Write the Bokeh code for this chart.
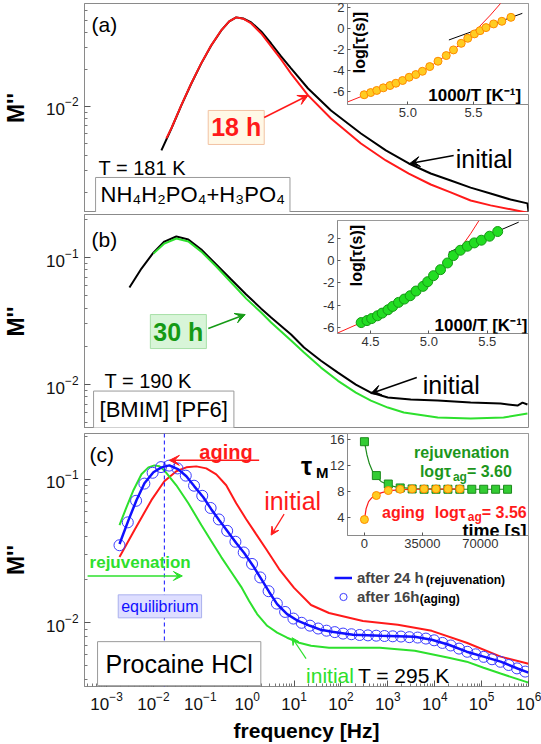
import math
from bokeh.plotting import figure
from bokeh.models import (Range1d, Label, Arrow, VeeHead, Span, FixedTicker, Column,
                          Legend, LegendItem, GridBox, PrintfTickFormatter)
from bokeh.embed import file_html
from bokeh.resources import INLINE

FONT = "Liberation Sans"

# ---------------- data ----------------
# panel (a): NH4H2PO4+H3PO4, T = 181 K
a_init_f = [0.0148, 0.0242, 0.0394, 0.0644, 0.105, 0.171, 0.280, 0.414, 0.583, 0.822, 1.22, 1.99, 3.24,
            5.29, 8.63, 19.9, 61.3, 267, 906, 2.80e3, 8.22e3, 2.19e4, 5.83e4, 1.55e5, 4.14e5, 9.5e5, 1.0e6]
a_init_m = [4.39e-3, 6.62e-3, 1.019e-2, 1.538e-2, 2.24e-2, 3.13e-2, 4.15e-2, 4.91e-2, 5.30e-2, 5.19e-2,
            4.82e-2, 4.07e-2, 3.25e-2, 2.55e-2, 2.04e-2, 1.40e-2, 9.27e-3, 6.03e-3, 4.39e-3, 3.44e-3,
            2.85e-3, 2.50e-3, 2.19e-3, 1.96e-3, 1.75e-3, 1.63e-3, 1.40e-3]
a_18h_f = [0.0189, 0.0242, 0.0394, 0.0644, 0.105, 0.171, 0.280, 0.414, 0.583, 0.822, 1.22, 1.99, 3.24,
           5.29, 8.63, 19.9, 61.3, 267, 906, 2.80e3, 8.22e3, 2.19e4, 5.83e4, 1.55e5, 4.14e5, 9.5e5]
a_18h_m = [5.50e-3, 6.65e-3, 1.025e-2, 1.545e-2, 2.25e-2, 3.14e-2, 4.16e-2, 4.92e-2, 5.30e-2, 5.17e-2,
           4.73e-2, 3.92e-2, 3.08e-2, 2.41e-2, 1.85e-2, 1.23e-2, 7.99e-3, 5.00e-3, 3.64e-3, 2.85e-3,
           2.32e-3, 2.00e-3, 1.72e-3, 1.57e-3, 1.46e-3, 1.37e-3]

# panel (b): [BMIM][PF6], T = 190 K
b_init_f = [3.08e-3, 5.56e-3, 1.00e-2, 1.71e-2, 3.08e-2, 5.56e-2, 0.105, 0.219, 0.457, 0.953, 1.99, 3.24,
            8.63, 16.3, 37.5, 86.3, 208, 435, 1000, 3.08e3, 1.16e4, 5.83e4, 2.54e5, 5.83e5, 7.45e5, 9.5e5]
b_init_m = [5.81e-2, 8.19e-2, 0.1094, 0.1336, 0.1464, 0.1385, 0.1156, 8.81e-2, 6.71e-2, 5.12e-2, 3.96e-2,
            3.37e-2, 2.48e-2, 1.96e-2, 1.54e-2, 1.24e-2, 1.00e-2, 8.65e-3, 7.90e-3, 7.62e-3, 7.48e-3,
            7.21e-3, 7.08e-3, 6.83e-3, 7.21e-3, 6.96e-3]
b_30h_f = [1.00e-2, 1.71e-2, 3.08e-2, 5.56e-2, 0.105, 0.219, 0.457, 0.953, 1.99, 3.24, 8.63, 16.3, 37.5,
           86.3, 208, 435, 1000, 2.19e3, 1.16e4, 5.83e4, 2.94e5, 9.5e5]
b_30h_m = [0.1074, 0.1288, 0.1412, 0.1337, 0.1114, 8.50e-2, 6.36e-2, 4.75e-2, 3.69e-2, 3.08e-2, 2.22e-2,
           1.79e-2, 1.36e-2, 1.07e-2, 8.65e-3, 7.48e-3, 6.59e-3, 6.03e-3, 5.50e-3, 5.40e-3, 5.50e-3, 5.91e-3]

# panel (c): Procaine HCl, T = 295 K
c_red_f = [1.89e-3, 3.95e-3, 9.06e-3, 1.71e-2, 3.08e-2, 5.04e-2, 8.22e-2, 0.134, 0.219, 0.357, 0.583,
           0.953, 1.55, 2.53, 4.80, 10.0, 23.0, 55.6, 294, 1.63e3, 8.63e3, 4.80e4, 2.54e5, 1.0e6]
c_red_m = [2.87e-2, 4.43e-2, 7.15e-2, 9.68e-2, 0.1137, 0.1211, 0.1230, 0.1191, 0.1083, 9.08e-2, 6.81e-2,
           5.27e-2, 4.15e-2, 3.27e-2, 2.37e-2, 1.75e-2, 1.33e-2, 1.17e-2, 1.03e-2, 9.68e-3, 8.79e-3,
           7.26e-3, 5.81e-3, 5.19e-3]
c_green_f = [1.89e-3, 2.67e-3, 3.75e-3, 5.56e-3, 7.83e-3, 1.05e-2, 1.34e-2, 1.71e-2, 3.08e-2, 5.56e-2,
             0.105, 0.171, 0.280, 0.457, 0.745, 1.10, 1.63, 2.67, 4.35, 7.10, 12.8, 23.0, 55.6, 128, 676,
             3.75e3, 1.99e4, 4.80e4, 1.10e5, 2.54e5, 1.0e6]
c_green_m = [4.80e-2, 6.40e-2, 8.39e-2, 0.1083, 0.1211, 0.1250, 0.1231, 0.1154, 9.08e-2, 6.81e-2,
             4.80e-2, 3.71e-2, 2.87e-2, 2.26e-2, 1.78e-2, 1.42e-2, 1.15e-2, 9.53e-3, 8.53e-3, 7.87e-3,
             7.26e-3, 6.92e-3, 6.70e-3, 6.70e-3, 6.70e-3, 6.39e-3, 5.71e-3, 5.36e-3, 4.86e-3, 4.43e-3, 3.83e-3]
c_blue_f = [1.89e-3, 2.94e-3, 4.35e-3, 6.44e-3, 1.00e-2, 1.48e-2, 2.19e-2, 3.40e-2, 5.04e-2, 7.45e-2,
            0.116, 0.171, 0.254, 0.394, 0.583, 0.863, 1.34, 1.99, 2.94, 4.35, 7.10, 12.2, 21.9, 37.5, 64.4,
            180, 710, 3.75e3, 8.63e3, 1.99e4, 4.80e4, 1.10e5, 2.54e5, 5.83e5, 1.0e6]
c_blue_m = [3.54e-2, 5.19e-2, 7.15e-2, 9.38e-2, 0.1119, 0.1211, 0.1250, 0.1173, 0.1049, 8.93e-2, 7.50e-2,
            6.19e-2, 5.19e-2, 4.28e-2, 3.60e-2, 3.06e-2, 2.49e-2, 2.02e-2, 1.64e-2, 1.35e-2, 1.15e-2,
            1.03e-2, 9.53e-3, 8.93e-3, 8.65e-3, 8.26e-3, 8.13e-3, 8.00e-3, 7.62e-3, 7.03e-3, 6.29e-3,
            5.81e-3, 5.36e-3, 4.80e-3, 4.50e-3]
c_circ_f = [1.89e-3, 2.84e-3, 4.27e-3, 6.41e-3, 9.62e-3, 1.45e-2, 2.17e-2, 3.26e-2, 4.90e-2, 7.35e-2,
            0.110, 0.166, 0.249, 0.374, 0.561, 0.843, 1.27, 1.90, 2.86, 4.29, 6.44, 9.68, 14.5, 21.8, 32.7,
            49.2, 73.9, 111, 167, 250, 376, 565, 847, 1.27e3, 1.91e3, 2.87e3, 4.32e3, 6.47e3, 9.72e3,
            1.46e4, 2.19e4, 3.30e4, 4.94e4, 7.43e4, 1.11e5, 1.67e5, 2.52e5, 3.78e5, 5.68e5, 8.51e5]
c_circ_m = [3.47e-2, 5.01e-2, 7.08e-2, 9.33e-2, 0.111, 0.1216, 0.1245, 0.119, 0.106, 9.02e-2, 7.67e-2,
            6.31e-2, 5.25e-2, 4.37e-2, 3.67e-2, 3.09e-2, 2.57e-2, 2.07e-2, 1.66e-2, 1.36e-2, 1.19e-2,
            1.07e-2, 1.00e-2, 9.55e-3, 9.12e-3, 8.81e-3, 8.61e-3, 8.41e-3, 8.32e-3, 8.22e-3, 8.17e-3,
            8.13e-3, 8.09e-3, 8.05e-3, 8.02e-3, 7.94e-3, 7.89e-3, 7.76e-3, 7.55e-3, 7.24e-3, 6.95e-3,
            6.61e-3, 6.28e-3, 6.03e-3, 5.79e-3, 5.57e-3, 5.35e-3, 5.08e-3, 4.81e-3, 4.57e-3]
f_equilibrium = 0.0171

# inset (a): log tau vs 1000/T
ia_x = [4.667, 4.717, 4.763, 4.813, 4.864, 4.909, 4.960, 5.010, 5.061, 5.111, 5.167, 5.230, 5.293, 5.348,
        5.407, 5.457, 5.508, 5.551, 5.596, 5.654, 5.717, 5.786]
ia_y = [-6.31, -6.10, -5.90, -5.65, -5.43, -5.21, -4.95, -4.64, -4.38, -4.07, -3.62, -3.11, -2.57, -2.03,
        -1.40, -0.92, -0.50, -0.19, 0.10, 0.45, 0.70, 1.08]
ia_vft_x = [4.54, 4.67, 4.80, 4.93, 5.06, 5.17, 5.27, 5.37, 5.46, 5.55, 5.63, 5.71]
ia_vft_y = [-7.0, -6.35, -5.75, -5.12, -4.40, -3.62, -2.75, -1.80, -0.80, 0.25, 1.30, 2.45]
ia_arr_x = [5.313, 5.873]
ia_arr_y = [-1.08, 1.46]

# inset (b)
ib_x = [4.42, 4.47, 4.51, 4.56, 4.60, 4.65, 4.69, 4.74, 4.79, 4.84, 4.89, 4.95, 4.99, 5.04, 5.10, 5.16,
        5.21, 5.27, 5.33, 5.39, 5.45, 5.52, 5.59]
ib_y = [-5.56, -5.38, -5.20, -4.95, -4.71, -4.41, -4.11, -3.75, -3.45, -3.15, -2.73, -2.31, -1.89, -1.35,
        -0.81, -0.21, 0.45, 0.93, 1.29, 1.59, 1.83, 2.19, 2.61]
ib_vft_x = [4.215, 4.42, 4.60, 4.79, 4.95, 5.10, 5.17, 5.24, 5.30, 5.36, 5.43]
ib_vft_y = [-6.51, -5.56, -4.65, -3.45, -2.25, -0.81, -0.05, 0.75, 1.55, 2.45, 3.60]
ib_arr_x = [5.17, 5.77]
ib_arr_y = [0.75, 3.45]

# inset (c): tau_M vs time
ic_rej_t = [0, 7200, 14400, 21600, 28800, 36000, 43200, 50400, 57600, 64800, 72000, 79200, 86400]
ic_rej_tau = [15.6, 10.4, 9.1, 8.5, 8.35, 8.3, 8.3, 8.3, 8.3, 8.3, 8.3, 8.3, 8.3]
ic_age_t = [0, 7200, 14400, 21600, 28800, 36000, 43200, 50400, 57600]
ic_age_tau = [3.65, 7.34, 8.1, 8.3, 8.35, 8.35, 8.35, 8.35, 8.35]
ic_rej_fit_t = [0, 1500, 3000, 5000, 7200, 10000, 14400, 20000, 30000, 45000, 86400]
ic_rej_fit_tau = [15.6, 13.6, 12.2, 11.0, 10.2, 9.5, 8.95, 8.6, 8.4, 8.32, 8.3]
ic_age_fit_t = [0, 1000, 2500, 4500, 7200, 10000, 14400, 20000, 30000, 57600]
ic_age_fit_tau = [3.6, 5.3, 6.4, 7.0, 7.4, 7.75, 8.05, 8.2, 8.3, 8.35]

X_TICKS = [1e-3, 1e-2, 1e-1, 1e0, 1e1, 1e2, 1e3, 1e4, 1e5, 1e6]
Y_TICKS_A = [1e-2]
Y_TICKS_BC = [1e-2, 1e-1]
IA_XTICKS = [5.0, 5.5]
IB_XTICKS = [4.5, 5.0, 5.5]
I_YTICKS = [-6, -4, -2, 0, 2]
IC_XTICKS = [0, 35000, 70000]
IC_YTICKS = [4, 8, 12, 16]

X_MINOR = [m * 10.0 ** k for k in range(-4, 6) for m in range(2, 10)]
Y_MINOR = [m * 10.0 ** k for k in range(-4, 0) for m in range(2, 10)]

# -------- annotation placement helpers (pixel -> data, annotations only) --------
def px_f(px):
    return 10 ** (-3 + (px - 105) / 47.0)

def py_a(py):
    return 10 ** (-2 - (py - 106) / 123.0)

def py_b(py):
    return 10 ** (-1 - (py - 257) / 127.0)

def py_c(py):
    return 10 ** (-1 - (py - 479) / 144.0)


def style_axis(ax, size="17px"):
    ax.axis_line_color = "#8a8a8a"
    ax.major_tick_line_color = "#555555"
    ax.minor_tick_line_color = "#777777"
    ax.major_tick_in = 6
    ax.major_tick_out = 0
    ax.minor_tick_in = 3
    ax.minor_tick_out = 0
    ax.major_label_text_font = FONT
    ax.major_label_text_font_size = size
    ax.major_label_text_color = "#111111"
    ax.axis_label_text_font = FONT
    ax.axis_label_text_font_style = "bold"
    ax.axis_label_text_color = "black"


def make_main(height, top, bottom, ylo, yhi, yticks, with_x):
    p = figure(width=541, height=height, x_axis_type="log", y_axis_type="log",
               x_range=Range1d(10 ** -3.47, 1e6), y_range=Range1d(ylo, yhi),
               x_axis_location=("below" if with_x else None),
               output_backend="svg", toolbar_location=None,
               min_border_left=83, min_border_right=13, min_border_top=top, min_border_bottom=bottom)
    p.xgrid.visible = False
    p.ygrid.visible = False
    p.outline_line_color = "#8a8a8a"
    y = p.yaxis[0]
    y.ticker = FixedTicker(ticks=yticks, minor_ticks=Y_MINOR)
    style_axis(y)
    y.axis_label = "M''"
    y.axis_label_text_font_size = "23px"
    y.axis_label_standoff = 14
    y.major_label_standoff = 6
    if with_x:
        x = p.xaxis[0]
        x.ticker = FixedTicker(ticks=X_TICKS, minor_ticks=X_MINOR)
        style_axis(x)
        x.axis_label = "frequency [Hz]"
        x.axis_label_text_font_size = "21px"
        x.axis_label_standoff = 6
        x.major_label_standoff = 5
    return p


def lab(p, x, y, text, size, color="black", bold=False, align="left", baseline="alphabetic", **kw):
    l = Label(x=x, y=y, text=text, text_font=FONT, text_font_size=f"{size}px",
              text_font_style=("bold" if bold else "normal"), text_color=color,
              text_align=align, text_baseline=baseline, **kw)
    p.add_layout(l)
    return l


def arr(p, x0, y0, x1, y1, color, width=1.5, head=10):
    p.add_layout(Arrow(x_start=x0, y_start=y0, x_end=x1, y_end=y1, line_color=color, line_width=width,
                       end=VeeHead(size=head, fill_color=color, line_color=color)))


IL, IB, IT = 34, 22, 9


def make_inset(fw, fh, xr, yr, xticks, yticks, xfmt):
    p = figure(width=fw + IL + 1, height=fh + IB + IT, x_range=Range1d(*xr), y_range=Range1d(*yr),
               output_backend="svg", toolbar_location=None,
               min_border_left=IL, min_border_right=1, min_border_top=IT, min_border_bottom=IB)
    p.border_fill_alpha = 0
    p.background_fill_color = "white"
    p.xgrid.visible = False
    p.ygrid.visible = False
    p.outline_line_color = "#9a9a9a"
    for ax, t in ((p.xaxis[0], xticks), (p.yaxis[0], yticks)):
        ax.ticker = FixedTicker(ticks=t, minor_ticks=[])
        style_axis(ax, "13px")
        ax.major_tick_in = 3
        ax.major_label_standoff = 3
        ax.major_label_text_color = "#333333"
    p.xaxis[0].formatter = PrintfTickFormatter(format=xfmt)
    p.yaxis[0].formatter = PrintfTickFormatter(format="%d")
    return p


def wrap(p, mtop, mleft):
    # frame top-left of the inset placed at (mleft, mtop) inside its panel cell
    return Column(children=[p], margin=(mtop - IT, 0, 0, mleft - IL), align="start")


RED = "#ff1a1a"
GREEN = "#2de02d"
DKGREEN = "#1c961c"
BLUE = "#1010ff"

# ================= panel (a) =================
pa = make_main(212, 3, 0, 10 ** -2.862, 10 ** -1.163, Y_TICKS_A, False)
pa.line(a_init_f, a_init_m, line_color="black", line_width=2)
pa.line(a_18h_f, a_18h_m, line_color=RED, line_width=2)
lab(pa, px_f(90), py_a(13), "(a)", 21, baseline="top")
lab(pa, px_f(97), py_a(168), "T = 181 K", 20)
lab(pa, px_f(94), py_a(194.5), "NH\u2084H\u2082PO\u2084+H\u2083PO\u2084", 22, baseline="middle",
    background_fill_color="white", border_line_color="#9a9a9a", padding=5)
lab(pa, px_f(235), py_a(127), "18 h", 25, color=RED, bold=True, align="center", baseline="middle",
    background_fill_color="#fff8e6", border_line_color="#f2c2a2", padding=3)
arr(pa, px_f(263), py_a(117), px_f(307), py_a(95), RED, 1.5, 10)
lab(pa, px_f(455), py_a(159), "initial", 25)
arr(pa, px_f(453), py_a(155), px_f(409), py_a(163), "black", 1.5, 10)

# ================= panel (b) =================
pb = make_main(216, 2, 0, 10 ** -2.346, 10 ** -0.661, Y_TICKS_BC, False)
pb.line(b_init_f, b_init_m, line_color="black", line_width=2)
pb.line(b_30h_f, b_30h_m, line_color=GREEN, line_width=2)
lab(pb, px_f(90), py_b(227), "(b)", 21, baseline="top")
lab(pb, px_f(103), py_b(380), "T = 190 K", 20)
lab(pb, px_f(92), py_b(409), "[BMIM] [PF6]", 22, baseline="middle",
    background_fill_color="white", border_line_color="#9a9a9a", padding=6)
lab(pb, px_f(177), py_b(331), "30 h", 25, color="#159a15", bold=True, align="center", baseline="middle",
    background_fill_color="#d8f5d8", border_line_color="#a8e0a8", padding=3)
arr(pb, px_f(207), py_b(328), px_f(244), py_b(314), "#159a15", 1.5, 10)
lab(pb, px_f(422), py_b(384), "initial", 25)
arr(pb, px_f(416), py_b(377), px_f(370), py_b(393), "black", 1.5, 10)

# ================= panel (c) =================
pc = make_main(316, 5, 57, 10 ** -2.444, 10 ** -0.681, Y_TICKS_BC, True)
pc.add_layout(Span(location=f_equilibrium, dimension="height", line_color=BLUE, line_dash="4 3", line_width=1))
pc.line(c_red_f, c_red_m, line_color=RED, line_width=2)
pc.line(c_green_f, c_green_m, line_color=GREEN, line_width=2)
r_circ = pc.scatter(c_circ_f, c_circ_m, marker="circle", size=11, fill_color=None,
                    line_color="#3c3cff", line_width=1)
r_blue = pc.line(c_blue_f, c_blue_m, line_color=BLUE, line_width=2.5)
lab(pc, px_f(88), py_c(443), "(c)", 21, baseline="top")
lab(pc, px_f(198), py_c(452), "aging", 20, color=RED, bold=True)
arr(pc, px_f(258), py_c(460), px_f(168), py_c(460), RED, 1.5, 10)
lab(pc, px_f(263), py_c(501), "initial", 25, color=RED)
arr(pc, px_f(283), py_c(514), px_f(270), py_c(535), RED, 1.2, 8)
lab(pc, px_f(88), py_c(563), "rejuvenation", 17, color=GREEN, bold=True)
arr(pc, px_f(86), py_c(576), px_f(181), py_c(576), GREEN, 1.5, 9)
lab(pc, px_f(158.5), py_c(606.5), "equilibrium", 16, color=BLUE, align="center", baseline="middle",
    background_fill_color="#dedeff", border_line_color="#aab0ee", padding=3)
lab(pc, px_f(96), py_c(664), "Procaine HCl", 25, baseline="middle",
    background_fill_color="white", border_line_color="#9a9a9a", padding=8)
lab(pc, px_f(305), py_c(676), "initial", 21, color=GREEN)
lab(pc, px_f(357), py_c(676), "T = 295 K", 21)
arr(pc, px_f(305), py_c(659), px_f(291), py_c(638), GREEN, 1.2, 7)
lab(pc, px_f(300), py_c(466), "\u03c4", 25, bold=True)
lab(pc, px_f(315), py_c(472), "M", 15, bold=True)
legend = Legend(items=[LegendItem(label="after 24 h", renderers=[r_blue]),
                       LegendItem(label="after 16h", renderers=[r_circ])],
                location=(250, 80), orientation="vertical",
                label_text_font=FONT, label_text_font_size="15px", label_text_font_style="bold",
                glyph_width=18, glyph_height=19, label_height=19, label_standoff=5, spacing=0,
                padding=0, margin=0, background_fill_alpha=0, border_line_alpha=0)
pc.add_layout(legend)
lab(pc, px_f(425), py_c(580), "(rejuvenation)", 12, bold=True, baseline="middle")
lab(pc, px_f(419), py_c(599), "(aging)", 12, bold=True, baseline="middle")

# ================= inset (a) =================
ia = make_inset(181, 101, (4.54, 5.92), (-7.24, 2.4), IA_XTICKS, I_YTICKS, "%.1f")
ia.line(ia_vft_x, ia_vft_y, line_color=RED, line_width=1)
ia.line(ia_arr_x, ia_arr_y, line_color="black", line_width=1)
ia.scatter(ia_x, ia_y, marker="circle", size=8, fill_color="#ffcc22", line_color="#ff8a00", line_width=1)
lab(ia, 4.563, -1.33, "log[\u03c4(s)]", 16, bold=True, align="center", baseline="top", angle=math.pi / 2)
lab(ia, 5.864, -6.4, "1000/T [K\u207b\u00b9]", 17, bold=True, align="right")

# ================= inset (b) =================
ib = make_inset(191, 113, (4.217, 5.854), (-6.54, 3.6), IB_XTICKS, I_YTICKS, "%.1f")
ib.line(ib_vft_x, ib_vft_y, line_color=RED, line_width=1)
ib.line(ib_arr_x, ib_arr_y, line_color="black", line_width=1)
ib.scatter(ib_x, ib_y, marker="circle", size=10, fill_color="#22dd22", line_color="#159a15", line_width=1)
lab(ib, 4.31, 0.45, "log[\u03c4(s)]", 16, bold=True, align="center", baseline="top", angle=math.pi / 2)
lab(ib, 5.845, -5.8, "1000/T [K\u207b\u00b9]", 17, bold=True, align="right")

# ================= inset (c) =================
ic = make_inset(181, 102, (-10220, 99050), (1.2, 16.86), IC_XTICKS, IC_YTICKS, "%d")
ic.line(ic_rej_fit_t, ic_rej_fit_tau, line_color="#1c8a1c", line_width=1.2)
ic.line(ic_age_fit_t, ic_age_fit_tau, line_color=RED, line_width=1.2)
ic.scatter(ic_rej_t, ic_rej_tau, marker="square", size=8, fill_color="#33cc33", line_color="#1c8a1c",
           line_width=1)
ic.scatter(ic_age_t, ic_age_tau, marker="circle", size=8, fill_color="#ffcc22", line_color="#ff8a00",
           line_width=1)
lab(ic, 58700, 13.95, "rejuvenation", 16, color=DKGREEN, bold=True, align="center")
lab(ic, 33500, 11.0, "log\u03c4", 16, color=DKGREEN, bold=True)
lab(ic, 33500, 11.0, "ag", 12, color=DKGREEN, bold=True, x_offset=33, y_offset=-5)
lab(ic, 33500, 11.0, " = 3.60", 16, color=DKGREEN, bold=True, x_offset=47)
lab(ic, 10600, 4.74, "aging", 16, color=RED, bold=True)
lab(ic, 42500, 4.74, "log\u03c4", 16, color=RED, bold=True)
lab(ic, 42500, 4.74, "ag", 12, color=RED, bold=True, x_offset=33, y_offset=-5)
lab(ic, 42500, 4.74, " = 3.56", 16, color=RED, bold=True, x_offset=47)
lab(ic, 97850, 1.9, "time [s]", 18, bold=True, align="right")

grid = GridBox(children=[(pa, 0, 0), (wrap(ia, 3, 347), 0, 0),
                         (pb, 1, 0), (wrap(ib, 8, 337), 1, 0),
                         (pc, 2, 0), (wrap(ic, 5, 347), 2, 0)],
               spacing=0)

open("out.html", "w").write(file_html(grid, INLINE))
